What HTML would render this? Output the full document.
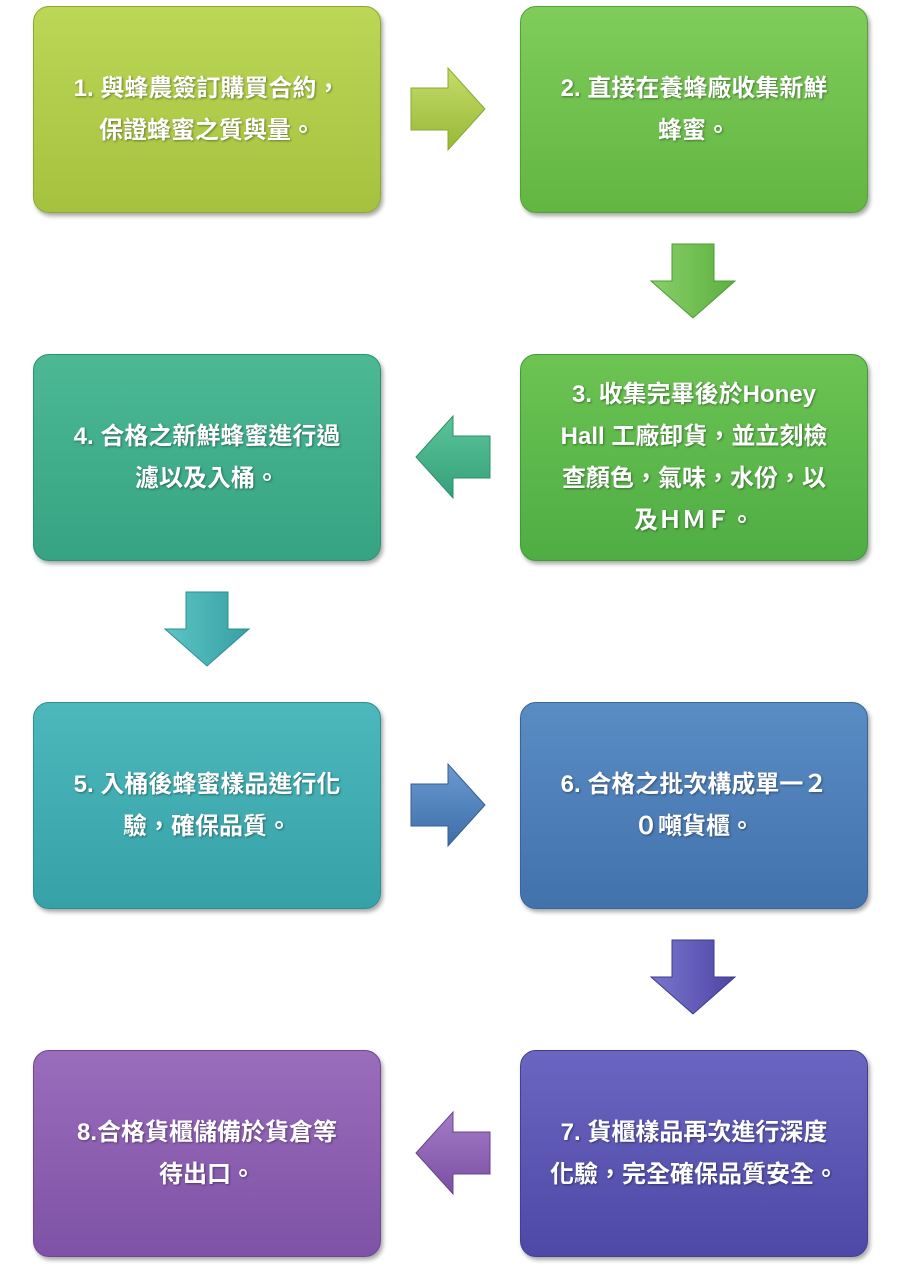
<!DOCTYPE html>
<html><head><meta charset="utf-8"><style>
body{margin:0;width:902px;height:1271px;background:#fff;position:relative;overflow:hidden;font-family:"Liberation Sans","Noto Sans CJK TC",sans-serif}
.b{position:absolute;width:348px;height:207px;border-radius:16px;box-sizing:border-box;display:flex;align-items:center;justify-content:center;text-align:center;color:#fff;font-weight:bold;font-size:24px;line-height:42px;box-shadow:2px 3px 4px rgba(0,0,0,.35);text-shadow:1px 1px 2px rgba(0,0,0,.4);padding:0 14px}
.l{left:33px}.r{left:520px}
svg{position:absolute}
</style></head><body>
<div class="b l" style="top:6px;background:linear-gradient(#bcd656,#a5c23e);border:1px solid #8fa832">1. 與蜂農簽訂購買合約，<br>保證蜂蜜之質與量。</div>
<div class="b r" style="top:6px;background:linear-gradient(#7fcc5a,#62b642);border:1px solid #55a037">2. 直接在養蜂廠收集新鮮<br>蜂蜜。</div>
<div class="b r" style="top:354px;background:linear-gradient(#6cc452,#4ead44);border:1px solid #42983a">3. 收集完畢後於Honey<br>Hall 工廠卸貨，並立刻檢<br>查顏色，氣味，水份，以<br>及ＨＭＦ。</div>
<div class="b l" style="top:354px;background:linear-gradient(#4cb894,#36a382);border:1px solid #2e8f72">4. 合格之新鮮蜂蜜進行過<br>濾以及入桶。</div>
<div class="b l" style="top:702px;background:linear-gradient(#4cb8bc,#36a2a8);border:1px solid #2e8e94">5. 入桶後蜂蜜樣品進行化<br>驗，確保品質。</div>
<div class="b r" style="top:702px;background:linear-gradient(#5a8cc4,#4272ac);border:1px solid #3a6498">6. 合格之批次構成單一２<br>０噸貨櫃。</div>
<div class="b r" style="top:1050px;background:linear-gradient(#6a66c0,#4e48a6);border:1px solid #433e92">7. 貨櫃樣品再次進行深度<br>化驗，完全確保品質安全。</div>
<div class="b l" style="top:1050px;background:linear-gradient(#9a6cbc,#7e52a6);border:1px solid #6e4692">8.合格貨櫃儲備於貨倉等<br>待出口。</div>

<svg width="902" height="1271" style="left:0;top:0">
<defs>
<linearGradient id="g1" x1="0" y1="0" x2="0" y2="1"><stop offset="0" stop-color="#c4dc68"/><stop offset="1" stop-color="#98b838"/></linearGradient>
<linearGradient id="g2" x1="0" y1="0" x2="1" y2="0"><stop offset="0" stop-color="#88d068"/><stop offset="1" stop-color="#5cb040"/></linearGradient>
<linearGradient id="g3" x1="0" y1="0" x2="0" y2="1"><stop offset="0" stop-color="#5cc49a"/><stop offset="1" stop-color="#34a07a"/></linearGradient>
<linearGradient id="g4" x1="0" y1="0" x2="1" y2="0"><stop offset="0" stop-color="#5cc4c4"/><stop offset="1" stop-color="#36a0a4"/></linearGradient>
<linearGradient id="g5" x1="0" y1="0" x2="0" y2="1"><stop offset="0" stop-color="#6a9ad0"/><stop offset="1" stop-color="#3e6ea8"/></linearGradient>
<linearGradient id="g6" x1="0" y1="0" x2="1" y2="0"><stop offset="0" stop-color="#7a76cc"/><stop offset="1" stop-color="#4c46a4"/></linearGradient>
<linearGradient id="g7" x1="0" y1="0" x2="0" y2="1"><stop offset="0" stop-color="#a47cc8"/><stop offset="1" stop-color="#7a4ea2"/></linearGradient>
</defs>
<polygon points="411,88 448,88 448,68 485,109 448,150 448,130 411,130" fill="url(#g1)" stroke="#8aa830"/>
<polygon points="672,244 714,244 714,281 735,281 693,318 651,281 672,281" fill="url(#g2)" stroke="#4e9a36"/>
<polygon points="490,436 453,436 453,416 416,457 453,498 453,478 490,478" fill="url(#g3)" stroke="#2e8e6c"/>
<polygon points="186,592 228,592 228,629 249,629 207,666 165,629 186,629" fill="url(#g4)" stroke="#2e8e92"/>
<polygon points="411,784 448,784 448,764 485,805 448,846 448,826 411,826" fill="url(#g5)" stroke="#365e94"/>
<polygon points="672,940 714,940 714,977 735,977 693,1014 651,977 672,977" fill="url(#g6)" stroke="#403a90"/>
<polygon points="490,1132 453,1132 453,1112 416,1153 453,1194 453,1174 490,1174" fill="url(#g7)" stroke="#6a4290"/>
</svg>
</body></html>
